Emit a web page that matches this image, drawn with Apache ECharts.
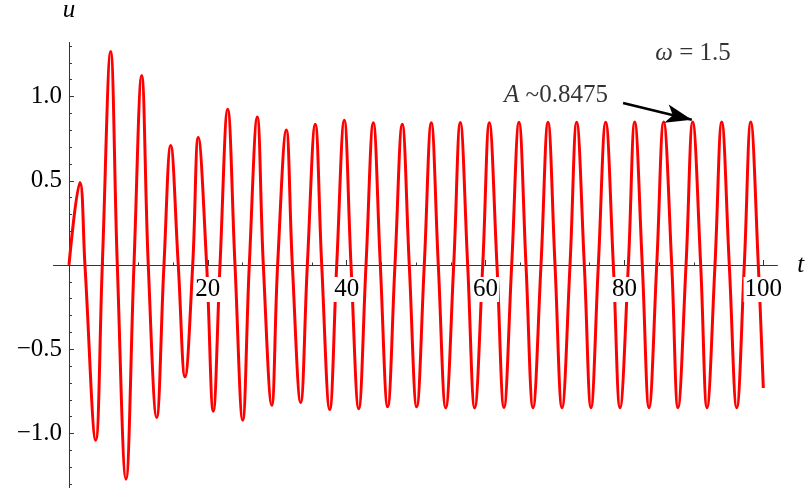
<!DOCTYPE html>
<html>
<head>
<meta charset="utf-8">
<script src="https://cdn.jsdelivr.net/npm/echarts@6/dist/echarts.min.js"></script>
<style>
  html, body { margin: 0; padding: 0; background: #fff; }
  #chart { width: 807px; height: 490px; }
</style>
</head>
<body>
<div id="chart"></div>
<script>
// maxima of u(t)
const peakT = [1.58, 6.0, 10.47, 14.65, 18.62, 22.86, 27.12, 31.3, 35.47, 39.65, 43.83, 48.0,
  52.18, 56.36, 60.54, 64.81, 68.99, 73.12, 77.3, 81.48, 85.65, 89.83, 94.01, 98.19];
const peakU = [0.49, 1.267, 1.125, 0.709, 0.757, 0.925, 0.878, 0.802, 0.836, 0.859, 0.844, 0.836,
  0.844, 0.846, 0.844, 0.847, 0.847, 0.847, 0.847, 0.848, 0.848, 0.848, 0.848, 0.848];

// minima of u(t)
const troughT = [3.85, 8.21, 12.63, 16.71, 20.78, 25.02, 29.2, 33.37, 37.55, 41.73, 45.9, 50.08,
  54.26, 58.43, 62.65, 66.83, 71.01, 75.18, 79.36, 83.54, 87.71, 91.89, 96.17];
const troughU = [-1.04, -1.271, -0.905, -0.664, -0.868, -0.921, -0.832, -0.816, -0.858, -0.853, -0.842, -0.842,
  -0.848, -0.848, -0.846, -0.847, -0.847, -0.847, -0.847, -0.847, -0.847, -0.847, -0.847];

// where the curve crosses u = 0
const crossT = [2.3, 4.8, 6.96, 9.36, 11.42, 13.68, 15.74, 17.82, 19.83, 21.75, 23.91, 25.97,
  27.99, 30.05, 32.17, 34.33, 36.4, 38.56, 40.62, 42.78, 44.84, 46.95, 49.01, 51.17, 53.19,
  55.41, 57.42, 59.59, 61.64, 63.76, 65.82, 67.98, 70.0, 72.16, 74.22, 76.24, 78.4, 80.56,
  82.57, 84.65, 86.81, 88.87, 90.98, 93.04, 95.1, 97.26, 99.28];

const startPoint = [0, 0];
const endPoint = [100, -0.73];

// ticks and labels
const xMajor = [20, 40, 60, 80, 100];
const xMinor = [5, 10, 15, 25, 30, 35, 45, 50, 55, 65, 70, 75, 85, 90, 95];
const yMajor = [-1, -0.5, 0.5, 1];
const yMinor = [-1.3, -1.2, -1.1, -0.9, -0.8, -0.7, -0.6, -0.4, -0.3, -0.2, -0.1,
  0.1, 0.2, 0.3, 0.4, 0.6, 0.7, 0.8, 0.9, 1.1, 1.2, 1.3];

// annotation: amplitude arrow + labels
const arrowFrom = [79.8, 0.961];
const arrowTo = [89.7, 0.862];
const omegaAt = [89.87, 1.258];
const ampAt = [70.14, 1.008];

const serif = 'Liberation Serif';
const axisColor = '#333';
const fontSize = 25;

const xRange = { min: -2.2, max: 102 };
const yRange = { min: -1.32, max: 1.32 };

// grid box; the axes cross at (0, 0) inside it
const gridLeft = 53.7;
const gridBottom = 2.6;
const zeroX = 69;
const zeroY = 265;

const curve = [startPoint]
  .concat(peakT.map((t, i) => [t, peakU[i]]))
  .concat(troughT.map((t, i) => [t, troughU[i]]))
  .concat(crossT.map((t) => [t, 0]))
  .concat([endPoint])
  .sort((a, b) => a[0] - b[0]);

const chart = echarts.init(document.getElementById('chart'));

const fmtY = (v) => (v < 0 ? '\u2212' + Math.abs(v).toFixed(1) : v.toFixed(1));
const labelFont = { fontFamily: serif, fontSize: fontSize, color: '#000' };
const nameFont = { fontFamily: serif, fontStyle: 'italic', fontSize: fontSize, color: '#000' };

// axis that only draws a set of inward ticks on the zero line
const tickAxis = (range, pos, values, len, extra) => Object.assign({
  type: 'value',
  min: range.min,
  max: range.max,
  position: pos,
  axisLine: { show: true, onZero: true, onZeroAxisIndex: 0, lineStyle: { color: axisColor, width: 1 } },
  axisTick: { show: true, inside: true, length: len, customValues: values, lineStyle: { color: axisColor } },
  axisLabel: { show: false },
  splitLine: { show: false },
}, extra || {});

// axis that only draws labels, shifted onto the zero line
const labelAxis = (range, pos, values, offset, label) => ({
  type: 'value',
  min: range.min,
  max: range.max,
  position: pos,
  offset: offset,
  z: 5,
  axisLine: { show: false, onZero: false },
  axisTick: { show: false },
  axisLabel: Object.assign({ show: true, customValues: values }, labelFont, label),
  splitLine: { show: false },
});

const option = {
  animation: false,
  textStyle: { fontFamily: serif },
  grid: {
    left: gridLeft,
    right: 29.8,
    top: 42.6,
    bottom: gridBottom,
    containLabel: false,
    outerBoundsMode: 'none',
  },
  xAxis: [
    tickAxis(xRange, 'bottom', xMajor, 5, {
      name: 't', nameLocation: 'end', nameGap: 20, nameTextStyle: nameFont,
    }),
    tickAxis(xRange, 'bottom', xMinor, 2.5),
    labelAxis(xRange, 'bottom', xMajor, -(490 - gridBottom - zeroY), {
      margin: 12, align: 'center', verticalAlign: 'top', backgroundColor: '#fff', padding: [0, 1],
    }),
  ],
  yAxis: [
    tickAxis(yRange, 'left', yMajor, 5, {
      name: 'u', nameLocation: 'end', nameGap: 20, nameTextStyle: nameFont,
    }),
    tickAxis(yRange, 'left', yMinor, 3),
    labelAxis(yRange, 'left', yMajor, -(zeroX - gridLeft), {
      margin: 7, align: 'right', verticalAlign: 'middle', formatter: fmtY,
    }),
  ],
  series: [
    {
      name: 'u',
      type: 'line',
      data: curve,
      smooth: 0.4,
      showSymbol: false,
      symbol: 'none',
      lineStyle: { color: '#ff0000', width: 3 },
      z: 3,
    },
    {
      name: 'notes',
      type: 'scatter',
      symbolSize: 0,
      silent: true,
      data: [
        { value: omegaAt, label: { formatter: '{i|\u03c9} = 1.5' } },
        { value: ampAt, label: { formatter: '{i|A} ~0.8475' } },
      ],
      label: {
        show: true,
        position: 'inside',
        fontFamily: serif,
        fontSize: fontSize,
        color: '#000',
        rich: { i: nameFont },
      },
      markLine: {
        silent: true,
        symbol: ['none', 'arrow'],
        symbolSize: [14, 26],
        label: { show: false },
        lineStyle: { color: '#000', width: 2.5, type: 'solid' },
        data: [[{ coord: arrowFrom }, { coord: arrowTo }]],
      },
      z: 4,
    },
  ],
};

chart.setOption(option);
</script>
</body>
</html>
